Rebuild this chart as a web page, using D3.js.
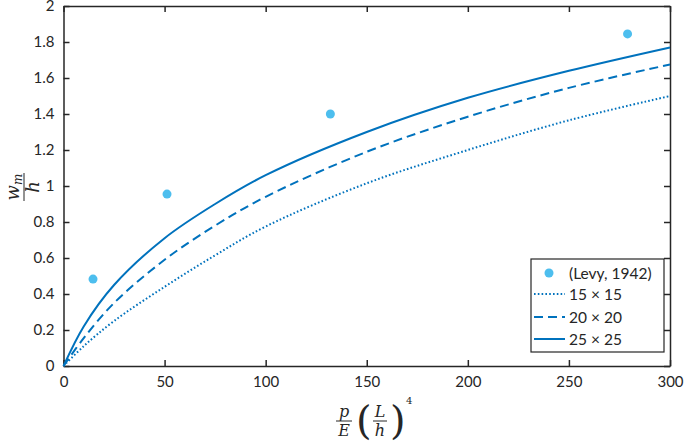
<!DOCTYPE html>
<html>
<head>
<meta charset="utf-8">
<script src="https://cdn.jsdelivr.net/npm/d3@7"></script>
<style>
  body { margin: 0; background: #fff; }
  .tick text { font-family: Lato, "Noto Sans", sans-serif; font-size: 15px; fill: #262626; }
  .math { font-family: "DejaVu Serif", "Liberation Serif", serif; font-style: italic; fill: #262626; }
  .leg { font-family: Lato, "Noto Sans", sans-serif; font-size: 15.5px; fill: #262626; }
</style>
</head>
<body>
<div id="chart"></div>
<script>
// values
var xVals = [0, 10, 25, 50, 75, 100, 150, 200, 250, 300];
var grid15 = [0, 0.11, 0.25, 0.44, 0.615, 0.775, 1.015, 1.20, 1.365, 1.50];
var grid20 = [0, 0.155, 0.35, 0.59, 0.78, 0.94, 1.19, 1.385, 1.545, 1.675];
var grid25 = [0, 0.22, 0.45, 0.71, 0.90, 1.06, 1.30, 1.49, 1.64, 1.77];
var levyX = [14.6, 51.2, 132, 279];
var levyY = [0.483, 0.955, 1.40, 1.845];
var xTicks = [0, 50, 100, 150, 200, 250, 300];
var yTicks = [0, 0.2, 0.4, 0.6, 0.8, 1, 1.2, 1.4, 1.6, 1.8, 2];
var legendLabels = ["(Levy, 1942)", "15 \u00d7 15", "20 \u00d7 20", "25 \u00d7 25"];

var margin = { top: 6, right: 15, bottom: 80, left: 63.5 };
var width = 685 - margin.left - margin.right;
var height = 446 - margin.top - margin.bottom;

var lineColor = "#0072BD";
var dotColor = "#4DBEEE";
var axisColor = "#262626";

var svg = d3.select("#chart")
  .append("svg")
  .attr("width", 685)
  .attr("height", 446);

var g = svg.append("g")
  .attr("transform", "translate(" + margin.left + "," + margin.top + ")");

var xScale = d3.scaleLinear().domain([0, 300]).range([0, width]);
var yScale = d3.scaleLinear().domain([0, 2]).range([height, 0]);

// axes, ticks inside, on all four sides
var fmt = function(d) { return d3.format("~g")(d); };
var xAxis = d3.axisBottom(xScale).tickValues(xTicks).tickFormat(fmt).tickSizeInner(-6).tickSizeOuter(0).tickPadding(10);
var yAxis = d3.axisLeft(yScale).tickValues(yTicks).tickFormat(fmt).tickSizeInner(-6).tickSizeOuter(0).tickPadding(9);
var xTop = d3.axisTop(xScale).tickValues(xTicks).tickFormat("").tickSizeInner(-6).tickSizeOuter(0);
var yRight = d3.axisRight(yScale).tickValues(yTicks).tickFormat("").tickSizeInner(-6).tickSizeOuter(0);

g.append("g").attr("class", "xaxis").attr("transform", "translate(0," + height + ")").call(xAxis);
g.append("g").attr("class", "yaxis").call(yAxis);
g.append("g").attr("class", "xtop").call(xTop);
g.append("g").attr("class", "yright").attr("transform", "translate(" + width + ",0)").call(yRight);

g.selectAll(".domain").attr("stroke", axisColor).attr("stroke-width", 1.5);
g.selectAll(".tick line").attr("stroke", axisColor).attr("stroke-width", 1.5);

// curves
var line = d3.line()
  .x(function(d) { return xScale(d[0]); })
  .y(function(d) { return yScale(d[1]); })
  .curve(d3.curveCatmullRom.alpha(0.5));

var series = [
  { name: legendLabels[1], values: grid15, dash: "1.6,2.2" },
  { name: legendLabels[2], values: grid20, dash: "9,5" },
  { name: legendLabels[3], values: grid25, dash: null }
];

series.forEach(function(s) {
  g.append("path")
    .attr("d", line(xVals.map(function(x, i) { return [x, s.values[i]]; })))
    .attr("fill", "none")
    .attr("stroke", lineColor)
    .attr("stroke-width", 2)
    .attr("stroke-dasharray", s.dash);
});

// Levy points
g.selectAll(".levy")
  .data(levyX.map(function(x, i) { return [x, levyY[i]]; }))
  .enter()
  .append("circle")
  .attr("class", "levy")
  .attr("cx", function(d) { return xScale(d[0]); })
  .attr("cy", function(d) { return yScale(d[1]); })
  .attr("r", 4.5)
  .attr("fill", dotColor);

// legend
var leg = svg.append("g").attr("transform", "translate(531,259)");
leg.append("rect")
  .attr("width", 133).attr("height", 93)
  .attr("fill", "#fff")
  .attr("stroke", axisColor).attr("stroke-width", 1.2);

var rowY = [14, 35, 58, 80];
leg.append("circle").attr("cx", 18).attr("cy", rowY[0]).attr("r", 4.5).attr("fill", dotColor);
series.forEach(function(s, i) {
  leg.append("line")
    .attr("x1", 3).attr("x2", 34)
    .attr("y1", rowY[i + 1]).attr("y2", rowY[i + 1])
    .attr("stroke", lineColor).attr("stroke-width", 2)
    .attr("stroke-dasharray", s.dash);
});
legendLabels.forEach(function(t, i) {
  leg.append("text")
    .attr("class", "leg")
    .attr("x", 38)
    .attr("y", rowY[i] + 5.5)
    .text(t);
});

// y label: w_m / h
var yl = svg.append("g").attr("transform", "translate(24,187) rotate(-90)");
var num = yl.append("text").attr("class", "math").attr("text-anchor", "middle").attr("y", -5).attr("font-size", 18);
num.append("tspan").text("w");
num.append("tspan").attr("font-size", 12).attr("dy", 3).text("m");
yl.append("line").attr("x1", -14).attr("x2", 14).attr("y1", 0).attr("y2", 0).attr("stroke", axisColor).attr("stroke-width", 1);
yl.append("text").attr("class", "math").attr("text-anchor", "middle").attr("y", 15).attr("font-size", 18).text("h");

// x label: p/E (L/h)^4
var xl = svg.append("g").attr("transform", "translate(344,421)");
xl.append("text").attr("class", "math").attr("text-anchor", "middle").attr("y", -4).attr("font-size", 16).text("p");
xl.append("line").attr("x1", -8).attr("x2", 8).attr("y1", 0).attr("y2", 0).attr("stroke", axisColor).attr("stroke-width", 1);
xl.append("text").attr("class", "math").attr("text-anchor", "middle").attr("y", 15).attr("font-size", 16).text("E");
xl.append("text").attr("x", 12).attr("y", 13).attr("font-family", "DejaVu Serif, serif").attr("font-size", 40).attr("fill", axisColor).text("(");
xl.append("text").attr("class", "math").attr("text-anchor", "middle").attr("x", 36).attr("y", -4).attr("font-size", 16).text("L");
xl.append("line").attr("x1", 29).attr("x2", 43).attr("y1", 0).attr("y2", 0).attr("stroke", axisColor).attr("stroke-width", 1);
xl.append("text").attr("class", "math").attr("text-anchor", "middle").attr("x", 36).attr("y", 15).attr("font-size", 16).text("h");
xl.append("text").attr("x", 46).attr("y", 13).attr("font-family", "DejaVu Serif, serif").attr("font-size", 40).attr("fill", axisColor).text(")");
xl.append("text").attr("x", 62).attr("y", -17).attr("font-family", "DejaVu Serif, serif").attr("font-size", 10).attr("fill", axisColor).text("4");
</script>
</body>
</html>
